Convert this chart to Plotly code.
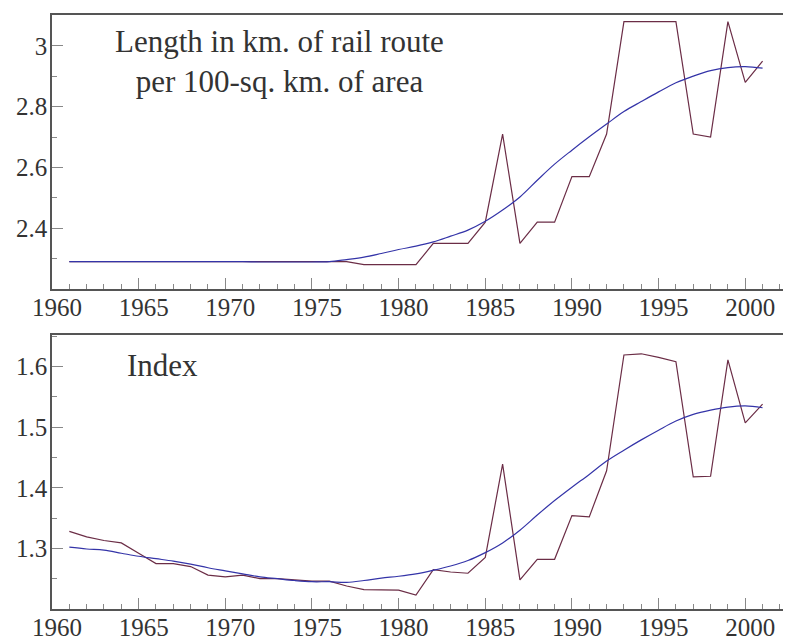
import plotly.graph_objects as go
from plotly.subplots import make_subplots

years = list(range(1961, 2002))

rail_density = [2.29, 2.29, 2.29, 2.29, 2.29, 2.29, 2.29, 2.29, 2.29, 2.29,
                2.29, 2.29, 2.29, 2.29, 2.29, 2.29, 2.29, 2.28, 2.28, 2.28,
                2.28, 2.35, 2.35, 2.35, 2.42, 2.71, 2.35, 2.42, 2.42, 2.57,
                2.57, 2.71, 3.08, 3.08, 3.08, 3.08, 2.71, 2.70, 3.08, 2.88,
                2.95]

rail_density_trend = [2.29, 2.29, 2.29, 2.29, 2.29, 2.29, 2.29, 2.29, 2.29, 2.29,
                      2.29, 2.289, 2.289, 2.289, 2.289, 2.290, 2.297, 2.305, 2.317, 2.330,
                      2.341, 2.355, 2.374, 2.394, 2.423, 2.460, 2.503, 2.558, 2.611, 2.657,
                      2.701, 2.743, 2.784, 2.817, 2.849, 2.879, 2.901, 2.919, 2.929, 2.932,
                      2.927]

index_vals = [1.328, 1.319, 1.313, 1.309, 1.292, 1.275, 1.275, 1.270, 1.256, 1.253,
              1.256, 1.250, 1.250, 1.248, 1.246, 1.246, 1.238, 1.232, 1.232, 1.231,
              1.223, 1.265, 1.261, 1.259, 1.285, 1.439, 1.248, 1.282, 1.282, 1.354,
              1.352, 1.428, 1.619, 1.621, 1.615, 1.608, 1.418, 1.419, 1.611, 1.507,
              1.538]

index_trend = [1.302, 1.299, 1.297, 1.292, 1.287, 1.283, 1.279, 1.274, 1.268, 1.263,
               1.258, 1.253, 1.250, 1.247, 1.245, 1.245, 1.244, 1.247, 1.251, 1.254,
               1.258, 1.264, 1.271, 1.280, 1.293, 1.309, 1.330, 1.355, 1.379, 1.401,
               1.422, 1.444, 1.462, 1.479, 1.495, 1.510, 1.521, 1.528, 1.533, 1.535,
               1.532]

x_ticks = [1960, 1965, 1970, 1975, 1980, 1985, 1990, 1995, 2000]
top_yticks = [2.4, 2.6, 2.8, 3.0]
top_yticktext = ["2.4", "2.6", "2.8", "3"]
bot_yticks = [1.3, 1.4, 1.5, 1.6]
bot_yticktext = ["1.3", "1.4", "1.5", "1.6"]

MAROON = "#6b2d46"
BLUE = "#3434a8"
AXIS = "#555555"
TEXT = "#333333"
FONT = "Liberation Serif, Tinos, 'Times New Roman', Times, serif"

fig = make_subplots(rows=2, cols=1, vertical_spacing=0.0774)

fig.add_trace(go.Scatter(x=years, y=rail_density, mode="lines",
                         line=dict(color=MAROON, width=1.2)), row=1, col=1)
fig.add_trace(go.Scatter(x=years, y=rail_density_trend, mode="lines",
                         line=dict(color=BLUE, width=1.2, shape="spline")), row=1, col=1)
fig.add_trace(go.Scatter(x=years, y=index_vals, mode="lines",
                         line=dict(color=MAROON, width=1.2)), row=2, col=1)
fig.add_trace(go.Scatter(x=years, y=index_trend, mode="lines",
                         line=dict(color=BLUE, width=1.2, shape="spline")), row=2, col=1)

xaxis_common = dict(
    range=[1960, 2002.64], tickmode="array", tickvals=x_ticks,
    ticks="inside", ticklen=11, tickwidth=1, tickcolor="#888888",
    showline=True, linecolor=AXIS, linewidth=1.5, mirror=True,
    showgrid=False, zeroline=False, automargin=False,
    tickfont=dict(family=FONT, size=25, color=TEXT),
    ticklabelshift=5, ticklabelstandoff=-5,
    minor=dict(tickmode="linear", tick0=1960, dtick=1, ticks="inside",
               ticklen=5, tickcolor="#888888", showgrid=False),
)
fig.update_xaxes(**xaxis_common, row=1, col=1)
fig.update_xaxes(**xaxis_common, row=2, col=1)

yaxis_common = dict(
    ticks="inside", ticklen=11, tickwidth=1, tickcolor="#888888",
    showline=True, linecolor=AXIS, linewidth=1.5, mirror=False,
    showgrid=False, zeroline=False, automargin=False,
    tickfont=dict(family=FONT, size=25, color=TEXT),
    ticklabelstandoff=-2,
)
fig.update_yaxes(**yaxis_common, range=[2.2, 3.102], tickmode="array",
                 tickvals=top_yticks, ticktext=top_yticktext,
                 minor=dict(tickmode="linear", tick0=2.2, dtick=0.1, ticks="inside",
                            ticklen=5, tickcolor="#888888", showgrid=False),
                 row=1, col=1)
fig.update_yaxes(**yaxis_common, range=[1.2, 1.652], tickmode="array",
                 tickvals=bot_yticks, ticktext=bot_yticktext,
                 minor=dict(tickmode="linear", tick0=1.2, dtick=0.05, ticks="inside",
                            ticklen=5, tickcolor="#888888", showgrid=False),
                 row=2, col=1)

# page body has an 8px margin; size the figure so the plot lands where the reference has it
fig.update_layout(
    width=783, height=636,
    margin=dict(l=44, r=0, t=7, b=35),
    paper_bgcolor="white", plot_bgcolor="white",
    showlegend=False,
    annotations=[
        dict(text="Length in km. of rail route<br>per 100-sq. km. of area",
             xref="x domain", yref="y domain", x=0.3085, y=0.832,
             xanchor="center", yanchor="middle", showarrow=False,
             font=dict(family=FONT, size=31, color=TEXT)),
        dict(text="Index",
             xref="x2 domain", yref="y2 domain", x=0.150, y=0.888,
             xanchor="center", yanchor="middle", showarrow=False,
             font=dict(family=FONT, size=31, color=TEXT)),
    ],
)
fig.update_yaxes(domain=[0.5387, 1.0], row=1, col=1)
fig.update_yaxes(domain=[0.0, 0.4613], row=2, col=1)

fig.write_html("out.html")
